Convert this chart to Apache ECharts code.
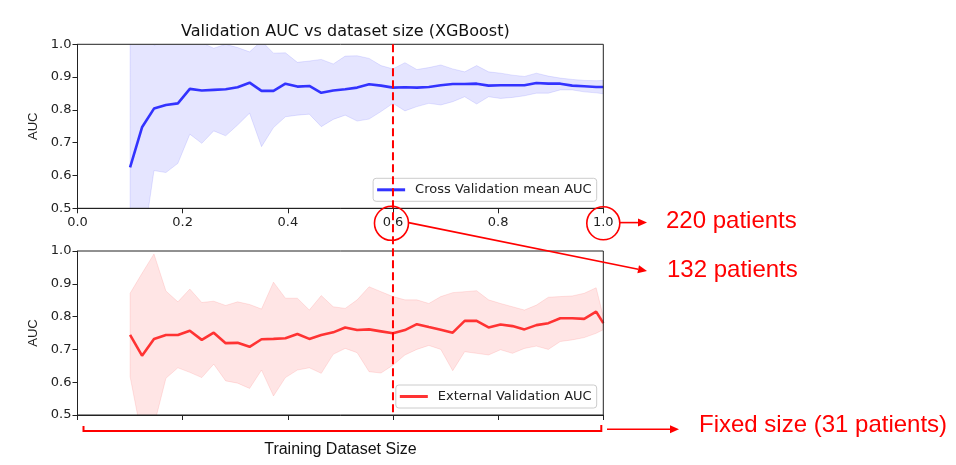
<!DOCTYPE html>
<html><head><meta charset="utf-8">
<script src="https://cdn.jsdelivr.net/npm/echarts@6/dist/echarts.min.js"></script>
<style>html,body{margin:0;padding:0;background:#fff}#c{width:956px;height:465px}</style>
</head><body><div id="c"></div>
<script>
// Training dataset sizes (patients); fraction = size / 220
const sizes = [22,27,32,37,42,47,52,57,62,67,72,77,82,87,92,97,102,107,112,117,122,127,132,137,142,147,152,157,162,167,172,177,182,187,192,197,202,207,212,217,220];
const totalPatients = 220;

const cvMean  = [0.625,0.747,0.804,0.815,0.820,0.864,0.859,0.861,0.863,0.869,0.883,0.858,0.858,0.880,0.871,0.873,0.852,0.859,0.863,0.868,0.878,0.874,0.868,0.869,0.868,0.870,0.875,0.879,0.879,0.880,0.874,0.875,0.875,0.875,0.882,0.880,0.880,0.874,0.872,0.870,0.870];
const cvUpper = [1.03,1.13,0.997,1.01,1.01,1.01,1.005,0.988,1.0,0.99,0.977,1.01,0.973,0.974,0.945,0.949,0.954,0.940,0.964,0.965,0.957,0.935,0.925,0.944,0.923,0.929,0.937,0.925,0.916,0.935,0.916,0.912,0.906,0.902,0.912,0.903,0.897,0.893,0.890,0.889,0.890];
const cvLower = [0.22,0.365,0.615,0.609,0.637,0.726,0.698,0.736,0.721,0.754,0.790,0.688,0.746,0.779,0.784,0.787,0.749,0.771,0.784,0.766,0.772,0.795,0.820,0.797,0.810,0.820,0.815,0.825,0.840,0.818,0.840,0.835,0.838,0.843,0.851,0.851,0.861,0.861,0.855,0.852,0.849];

const evMean  = [0.744,0.681,0.732,0.744,0.744,0.757,0.729,0.751,0.719,0.720,0.708,0.731,0.732,0.734,0.747,0.732,0.744,0.752,0.767,0.759,0.761,0.755,0.749,0.759,0.777,0.768,0.760,0.751,0.787,0.787,0.767,0.776,0.771,0.761,0.774,0.780,0.795,0.795,0.793,0.815,0.780];
const evUpper = [0.871,0.932,0.991,0.878,0.845,0.884,0.843,0.847,0.834,0.845,0.837,0.823,0.905,0.856,0.856,0.820,0.864,0.830,0.825,0.851,0.891,0.876,0.861,0.851,0.851,0.840,0.861,0.873,0.876,0.879,0.851,0.840,0.830,0.820,0.835,0.859,0.861,0.863,0.871,0.888,0.800];
const evLower = [0.617,0.43,0.468,0.612,0.644,0.630,0.614,0.655,0.604,0.597,0.581,0.637,0.558,0.614,0.637,0.644,0.627,0.685,0.703,0.690,0.632,0.628,0.652,0.683,0.700,0.712,0.700,0.635,0.693,0.688,0.683,0.699,0.688,0.703,0.710,0.700,0.724,0.729,0.736,0.749,0.760];

const xTickLabels = ['0.0','0.2','0.4','0.6','0.8','1.0'];
const yTickLabels = ['0.5','0.6','0.7','0.8','0.9','1.0'];
const markerFraction = 0.6;

const chart = echarts.init(document.getElementById('c'), null, {renderer:'canvas'});
const xs = sizes.map(n => n / totalPatients);
const pairs = (arr) => arr.map((v,i) => [xs[i], v]);

const FONT = 'DejaVu Sans';
const xLab = v => xTickLabels[Math.round(v/0.2)] ?? v.toFixed(1);
const yLab = v => yTickLabels[Math.round((v-0.5)/0.1)] ?? v.toFixed(1);

const G = [{left:77.5, top:44.3, width:525.8, height:164},
           {left:77.5, top:251, width:525.8, height:164}];

function xAx(i, showLabel){
  return {type:'value', gridIndex:i, min:0, max:1, interval:0.2,
    axisLine:{show:true, onZero:false, lineStyle:{color:'#222', width:1}},
    axisTick:{show:true, length:5, lineStyle:{color:'#222', width:1}},
    axisLabel:{show:showLabel, formatter:xLab, fontFamily:FONT, fontSize:13, color:'#222', margin:8},
    splitLine:{show:false}};
}
function yAx(i){
  return {type:'value', gridIndex:i, min:0.5, max:1.0, interval:0.1,
    name:'AUC', nameLocation:'middle', nameRotate:90, nameGap:36,
    nameTextStyle:{fontFamily:'Liberation Sans', fontSize:13, color:'#222'},
    axisLine:{show:true, lineStyle:{color:'#222', width:1}},
    axisTick:{show:true, length:5, lineStyle:{color:'#222', width:1}},
    axisLabel:{formatter:yLab, fontFamily:FONT, fontSize:13, color:'#222', margin:6},
    splitLine:{show:false}};
}
// shaded band between lower and upper, drawn through the axis scales
function band(name, upper, lower, idx, rgb){
  return {name, type:'custom', xAxisIndex:idx, yAxisIndex:idx, silent:true, z:1, clip:true,
    data:[[xs[0], lower[0]]],
    renderItem:function(params, api){
      if (params.dataIndex !== 0) return;
      const up = xs.map((x,i) => api.coord([x, upper[i]]));
      const lo = xs.map((x,i) => api.coord([x, lower[i]]));
      const cs = params.coordSys;
      return {type:'group',
        clipPath:{type:'rect', shape:{x:cs.x, y:cs.y, width:cs.width, height:cs.height}},
        children:[
          {type:'polygon', shape:{points:up.concat(lo.slice().reverse())},
           style:{fill:`rgba(${rgb},0.1)`, stroke:`rgba(${rgb},0.1)`, lineWidth:1}}
        ]};
    }};
}

const legendBase = {orient:'vertical', icon:'rect', itemWidth:28, itemHeight:3, padding:[5,5,5,4],
  backgroundColor:'rgba(255,255,255,0.8)', borderColor:'#cccccc', borderWidth:1, borderRadius:3,
  textStyle:{fontFamily:FONT, fontSize:13, color:'#222', padding:[0,0,0,5]}};

const option = {
  animation:false,
  backgroundColor:'#fff',
  title:{text:'Validation AUC vs dataset size (XGBoost)', left:340.4, top:19, textAlign:'center',
    textStyle:{fontFamily:FONT, fontSize:16, fontWeight:'normal', color:'#111'}},
  grid:G,
  xAxis:[xAx(0,true), Object.assign(xAx(1,false), {name:'Training Dataset Size', nameLocation:'middle', nameGap:27,
    nameTextStyle:{fontFamily:'Liberation Sans', fontSize:16, color:'#111'}})],
  yAxis:[yAx(0), yAx(1)],
  legend:[
    Object.assign({data:['Cross Validation mean AUC'], right:359.3, top:178.3}, legendBase),
    Object.assign({data:['External Validation AUC'], right:359.3, top:385}, legendBase)
  ],
  series:[
    band('cvBand', cvUpper, cvLower, 0, '0,0,255'),
    {name:'Cross Validation mean AUC', type:'line', data:pairs(cvMean), xAxisIndex:0, yAxisIndex:0,
     symbol:'none', z:3, clip:true, lineStyle:{color:'#3333ff', width:2.6}, itemStyle:{color:'#3333ff'}},
    band('evBand', evUpper, evLower, 1, '255,0,0'),
    {name:'External Validation AUC', type:'line', data:pairs(evMean), xAxisIndex:1, yAxisIndex:1,
     symbol:'none', z:3, clip:true, lineStyle:{color:'#ff3333', width:2.6}, itemStyle:{color:'#ff3333'}}
  ]
};
chart.setOption(option);

// annotations
const RED = '#ff0000';
const p6top = chart.convertToPixel({xAxisIndex:0, yAxisIndex:0}, [markerFraction, 1.0]);
const p6bot = chart.convertToPixel({xAxisIndex:0, yAxisIndex:0}, [markerFraction, 0.5]);
const p10 = chart.convertToPixel({xAxisIndex:0, yAxisIndex:0}, [1.0, 0.5]);
const p6b2 = chart.convertToPixel({xAxisIndex:1, yAxisIndex:1}, [markerFraction, 0.5]);
const p0b2 = chart.convertToPixel({xAxisIndex:1, yAxisIndex:1}, [0, 0.5]);
const labY = p6bot[1] + 15;

function arrow(x1,y1,x2,y2){
  const a = Math.atan2(y2-y1, x2-x1), L = 9, W = 4;
  const bx = x2 - L*Math.cos(a), by = y2 - L*Math.sin(a);
  return [
    {type:'line', shape:{x1,y1,x2:bx,y2:by}, style:{stroke:RED, lineWidth:1.6}, z:100},
    {type:'polygon', shape:{points:[[x2,y2],[bx - W*Math.sin(a), by + W*Math.cos(a)],[bx + W*Math.sin(a), by - W*Math.cos(a)]]},
     style:{fill:RED}, z:100}
  ];
}
const txt = (x,y,t) => ({type:'text', left:x, top:y-13, z:100,
  style:{text:t, fill:RED, font:'24px "Liberation Sans", Arial, sans-serif'}});

const frames = G.map(g => ({type:'rect', shape:{x:g.left, y:g.top, width:g.width, height:g.height},
  style:{fill:null, stroke:'#222', lineWidth:1}, z:50, silent:true}));

const graphics = [
  ...frames,
  {type:'line', shape:{x1:p6top[0], y1:p6top[1], x2:p6b2[0], y2:p6b2[1]},
   style:{stroke:RED, lineWidth:2, lineDash:[8,4]}, z:60},
  {type:'circle', shape:{cx:p6bot[0]-1.5, cy:labY, r:17}, style:{fill:null, stroke:RED, lineWidth:1.6}, z:100},
  {type:'circle', shape:{cx:p10[0], cy:labY, r:16.5}, style:{fill:null, stroke:RED, lineWidth:1.6}, z:100},
  ...arrow(p10[0]+16.5, labY-0.7, 647, labY-0.7),
  ...arrow(p6bot[0]+15.5, labY-0.7, 647, 271),
  txt(666, labY-0.7, '220 patients'),
  txt(667, 271, '132 patients'),
  {type:'polyline', shape:{points:[[p0b2[0]+6, p0b2[1]+11],[p0b2[0]+6, p0b2[1]+16],[p10[0]-2, p0b2[1]+16],[p10[0]-2, p0b2[1]+10]]},
   style:{stroke:RED, lineWidth:2, fill:null}, z:100},
  ...arrow(607, p0b2[1]+14.3, 679, p0b2[1]+14.3),
  txt(699, p0b2[1]+11, 'Fixed size (31 patients)')
];
chart.setOption({graphic:graphics});
</script></body></html>
